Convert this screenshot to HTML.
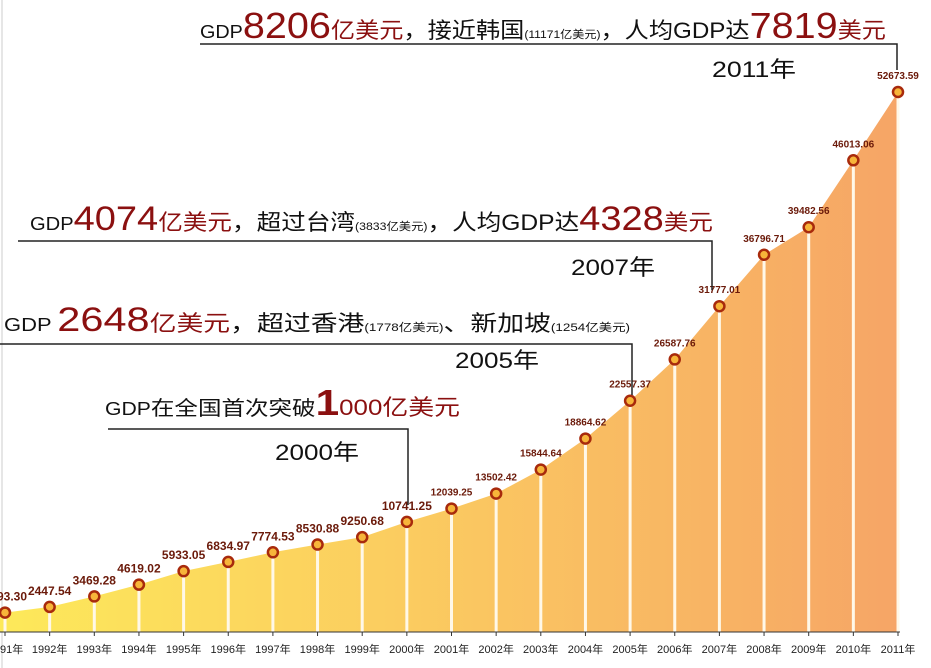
<!DOCTYPE html>
<html><head><meta charset="utf-8"><style>
html,body{margin:0;padding:0;background:#fff;}
svg{display:block;font-family:"Liberation Sans","Noto Sans CJK SC",sans-serif;}
</style></head><body>
<svg id="s" width="931" height="668" viewBox="0 0 931 668" xmlns="http://www.w3.org/2000/svg">
<defs>
<linearGradient id="g" x1="0" x2="1" y1="0" y2="0">
<stop offset="0" stop-color="#fde95a"/>
<stop offset="0.45" stop-color="#fbcc60"/>
<stop offset="1" stop-color="#f6a566"/>
</linearGradient>
</defs>
<line x1="2" y1="0" x2="2" y2="668" stroke="#ccc" stroke-width="1"/>
<g id="chart"></g>
<g fill="#111">
<text x="200" y="38" textLength="686" lengthAdjust="spacingAndGlyphs" font-size="22"><tspan font-size="18">GDP</tspan><tspan fill="#8b1010" font-size="36">8206</tspan><tspan fill="#8b1010">亿美元</tspan>，接近韩国<tspan font-size="11">(11171亿美元)</tspan>，人均GDP达<tspan fill="#8b1010" font-size="36">7819</tspan><tspan fill="#8b1010">美元</tspan></text>
<polyline points="200,44 897,44 897,70" fill="none" stroke="#222" stroke-width="1.5"/>
<text x="712" y="77" font-size="22" textLength="84" lengthAdjust="spacingAndGlyphs">2011年</text>

<text x="30" y="230" textLength="683" lengthAdjust="spacingAndGlyphs" font-size="22"><tspan font-size="18">GDP</tspan><tspan fill="#8b1010" font-size="34">4074</tspan><tspan fill="#8b1010">亿美元</tspan>，超过台湾<tspan font-size="11">(3833亿美元)</tspan>，人均GDP达<tspan fill="#8b1010" font-size="34">4328</tspan><tspan fill="#8b1010">美元</tspan></text>
<polyline points="18,241 712,241 712,290" fill="none" stroke="#222" stroke-width="1.5"/>
<text x="571" y="275" font-size="22" textLength="84" lengthAdjust="spacingAndGlyphs">2007年</text>

<text x="4" y="331" textLength="626" lengthAdjust="spacingAndGlyphs" font-size="22"><tspan font-size="18">GDP </tspan><tspan fill="#8b1010" font-size="34">2648</tspan><tspan fill="#8b1010">亿美元</tspan>，超过香港<tspan font-size="11">(1778亿美元)</tspan>、新加坡<tspan font-size="11">(1254亿美元)</tspan></text>
<polyline points="0,344 632,344 632,395" fill="none" stroke="#222" stroke-width="1.5"/>
<text x="455" y="368" font-size="22" textLength="84" lengthAdjust="spacingAndGlyphs">2005年</text>

<text x="105" y="415" textLength="355" lengthAdjust="spacingAndGlyphs" font-size="20"><tspan font-size="18">GDP</tspan>在全国首次突破<tspan fill="#8b1010" font-size="36" font-weight="bold">1</tspan><tspan fill="#8b1010" font-size="22">000亿美元</tspan></text>
<polyline points="108,429 408,429 408,505" fill="none" stroke="#222" stroke-width="1.5"/>
<text x="275" y="460" font-size="22" textLength="84" lengthAdjust="spacingAndGlyphs">2000年</text>
</g>
</svg>
<script>
var v=[1893.30,2447.54,3469.28,4619.02,5933.05,6834.97,7774.53,8530.88,9250.68,10741.25,12039.25,13502.42,15844.64,18864.62,22557.37,26587.76,31777.01,36796.71,39482.56,46013.06,52673.59];
var base=632,k=(632-92)/52673.59,g=document.getElementById("chart"),h="";
var pts=v.map(function(d,i){return [5+i*44.65,base-d*k];});
var p="M0,"+base+" L0,"+(pts[0][1]+1);pts.forEach(function(q){p+=" L"+q[0]+","+q[1];});p+=" L"+pts[20][0]+","+base+" Z";
h+='<path d="'+p+'" fill="url(#g)"/>';
pts.forEach(function(q){h+='<line x1="'+q[0]+'" y1="'+q[1]+'" x2="'+q[0]+'" y2="'+base+'" stroke="#fff8e8" stroke-width="3"/>';});
h+='<line x1="0" y1="'+base+'" x2="900" y2="'+base+'" stroke="#333" stroke-width="1"/>';
pts.forEach(function(q,i){
h+='<line x1="'+q[0]+'" y1="'+base+'" x2="'+q[0]+'" y2="'+(base+4)+'" stroke="#333"/>';
h+='<circle cx="'+q[0]+'" cy="'+q[1]+'" r="5" fill="#f7b53a" stroke="#a82a0c" stroke-width="2.5"/>';
var fs=i>=10?10:12;
var ly=q[1]-(i>=10?13:12);
if(i==0){h+='<text x="-3" y="'+ly+'" font-size="12" font-weight="bold" fill="#6b1a0a">93.30</text>';}
else h+='<text x="'+q[0]+'" y="'+ly+'" font-size="'+fs+'" font-weight="bold" fill="#6b1a0a" text-anchor="middle">'+v[i].toFixed(2)+'</text>';
if(i==0) h+='<text x="0" y="'+(base+21)+'" font-size="11" fill="#222">91年</text>';
else h+='<text x="'+q[0]+'" y="'+(base+21)+'" font-size="11" fill="#222" text-anchor="middle">'+(1991+i)+'年</text>';
});
g.innerHTML=h;
</script>
</body></html>
